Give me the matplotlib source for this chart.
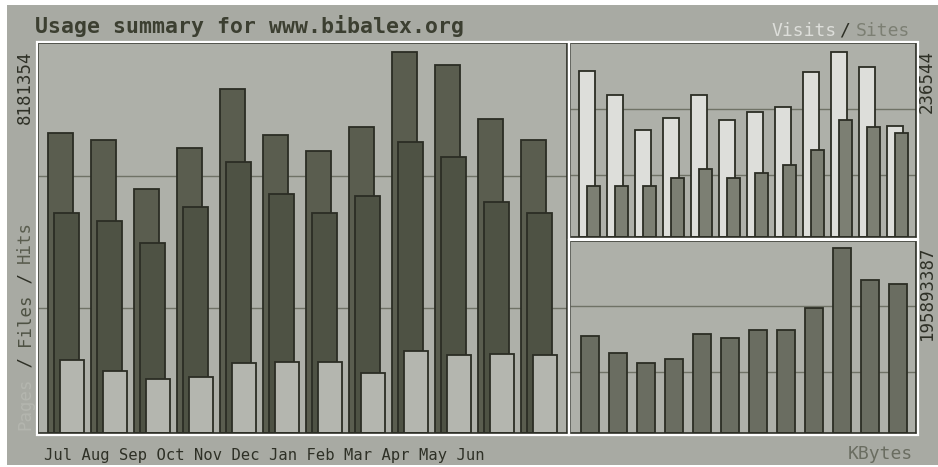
import matplotlib

matplotlib.use("Agg")

import matplotlib.pyplot as plt
from matplotlib.patches import Rectangle


MONTHS = ["Jul", "Aug", "Sep", "Oct", "Nov", "Dec", "Jan", "Feb", "Mar", "Apr", "May", "Jun"]

HITS = [6447000, 6297000, 5243000, 6125000, 7372000, 6404000,
        6045000, 6561000, 8181354, 7902000, 6733000, 6282000]
FILES = [4718000, 4554000, 4072000, 4840000, 5808000, 5120000,
         4718000, 5083000, 6245000, 5922000, 4954000, 4711000]
PAGES = [1570000, 1327000, 1168000, 1211000, 1499000, 1527000,
         1534000, 1291000, 1770000, 1663000, 1693000, 1663000]

VISITS = [212000, 180700, 136800, 151900, 180700, 149300,
          159100, 166100, 210000, 236544, 217200, 141900]
SITES = [64900, 64900, 64900, 75200, 86800, 75200,
         81700, 91600, 111000, 149300, 139800, 132900]

KBYTES = [102500000, 84400000, 74500000, 78800000, 104700000, 100800000,
          108900000, 108900000, 132300000, 195893387, 162100000, 158300000]

TITLE = "Usage summary for www.bibalex.org"

W, H = 938, 467
MONO = "DejaVu Sans Mono"

BG = "#a8aaa3"
PANEL = "#aeb0a9"
EDGE = "#2b2d24"
GRID = "#6f7266"
C_HITS = "#5a5d4f"
C_FILES = "#4e5244"
C_PAGES = "#b4b6af"
C_VISITS = "#dddeda"
C_SITES = "#7c7f73"
C_KBYTES = "#6a6d61"
C_TEXT = "#2e3026"
GRID_FRACS = (0.32, 0.66)


def px_rect(x0, y0, x1, y1):
    return [x0 / W, 1 - y1 / H, (x1 - x0) / W, (y1 - y0) / H]


def fx(x):
    return x / W


def fy(y):
    return 1 - y / H


def style_panel(ax, box, top_value, headroom):
    top = top_value * headroom
    ax.set_ylim(0, top)
    ax.set_facecolor(PANEL)
    ax.set_yticks([top * f for f in GRID_FRACS])
    ax.set_xticks([])
    ax.tick_params(left=False, labelleft=False)
    ax.grid(True, axis="y", color=GRID, linewidth=1.0)
    ax.set_axisbelow(True)
    for spine in ax.spines.values():
        spine.set_color(EDGE)
        spine.set_linewidth(1.2)
    x0, y0, x1, y1 = box
    ax.figure.add_artist(Rectangle((fx(x0 - 1.5), fy(y1 + 1.5)),
                                   (x1 - x0 + 3) / W, (y1 - y0 + 3) / H,
                                   transform=ax.figure.transFigure,
                                   fill=False, edgecolor="white", linewidth=1.6,
                                   zorder=0.5))


fig = plt.figure(figsize=(W / 100, H / 100), dpi=100, facecolor="white")
fig.add_artist(Rectangle((fx(7), fy(465)), (W - 7) / W, 460 / H,
                         transform=fig.transFigure, facecolor=BG,
                         edgecolor="none", zorder=0))

idx = list(range(len(MONTHS)))

# main panel: hits / files / pages
box_main = (38, 43, 567, 433)
ax1 = fig.add_axes(px_rect(*box_main))
unit = 43.0
ax1.set_xlim((box_main[0] - 48) / unit, (box_main[2] - 48) / unit)
bar_kw = dict(align="edge", edgecolor=EDGE, linewidth=1.3)
ax1.bar(idx, HITS, width=25 / unit, color=C_HITS, **bar_kw)
ax1.bar([i + 6 / unit for i in idx], FILES, width=24.7 / unit, color=C_FILES, **bar_kw)
ax1.bar([i + 12 / unit for i in idx], PAGES, width=24 / unit, color=C_PAGES, **bar_kw)
style_panel(ax1, box_main, max(HITS), 390 / 381.3)

# visits / sites
box_vs = (570, 43, 916, 237)
ax2 = fig.add_axes(px_rect(*box_vs))
unit = 28.0
ax2.set_xlim((box_vs[0] - 579.3) / unit, (box_vs[2] - 579.3) / unit)
ax2.bar(idx, VISITS, width=15.4 / unit, color=C_VISITS, **bar_kw)
ax2.bar([i + 7.4 / unit for i in idx], SITES, width=13.6 / unit, color=C_SITES, **bar_kw)
style_panel(ax2, box_vs, max(VISITS), 194 / 185.3)

# kbytes
box_kb = (570, 241, 916, 433)
ax3 = fig.add_axes(px_rect(*box_kb))
ax3.set_xlim((box_kb[0] - 579.3) / unit, (box_kb[2] - 579.3) / unit)
ax3.bar([i + 1.4 / unit for i in idx], KBYTES, width=18 / unit, color=C_KBYTES, **bar_kw)
style_panel(ax3, box_kb, max(KBYTES), 192 / 184.7)

# texts
fig.text(fx(35), fy(33), TITLE, family=MONO, fontsize=15.5, fontweight="bold",
         color="#3c3f31", ha="left", va="baseline")

fig.text(fx(837), fy(35.5), "Visits", family=MONO, fontsize=13, color=C_VISITS,
         ha="right", va="baseline")
fig.text(fx(845), fy(35.5), "/", family=MONO, fontsize=13, color=C_TEXT,
         ha="center", va="baseline")
fig.text(fx(856), fy(35.5), "Sites", family=MONO, fontsize=13, color=C_SITES,
         ha="left", va="baseline")

fig.text(fx(44), fy(460), " ".join(MONTHS), family=MONO, fontsize=11.2,
         color=C_TEXT, ha="left", va="baseline")
fig.text(fx(913), fy(459), "KBytes", family=MONO, fontsize=13, color=C_KBYTES,
         ha="right", va="baseline")

rot = dict(family=MONO, fontsize=12.5, color=C_TEXT, rotation=90,
           rotation_mode="anchor", ha="right", va="center")
fig.text(fx(25), fy(50), f"{max(HITS)}", **rot)
fig.text(fx(927), fy(50), f"{max(VISITS)}", **rot)
fig.text(fx(927), fy(245), f"{max(KBYTES)}", **rot)

# left legend, read bottom to top
size = 12.5
adv = 0.602 * size * 100 / 72
pieces = [("Pages", C_PAGES), (" / ", C_TEXT), ("Files", C_FILES),
          (" / ", C_TEXT), ("Hits", C_HITS)]
pos = 0
for text, color in pieces:
    fig.text(fx(25), fy(430 - pos * adv), text, family=MONO, fontsize=size,
             color=color, rotation=90, rotation_mode="anchor",
             ha="left", va="center")
    pos += len(text)

fig.savefig("out.png", dpi=100, facecolor="white")
